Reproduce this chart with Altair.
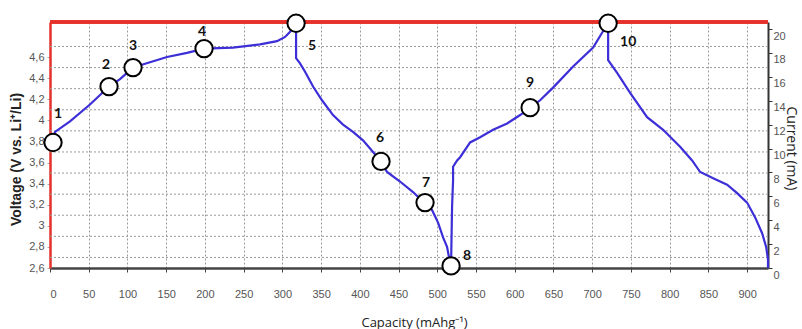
import altair as alt
import pandas as pd

# ---------------- data ----------------
capacity = [
    2.6, 6.5, 25.8, 51.6, 76.2, 90.4, 107.2, 129.1, 151.1, 176.9, 198.9, 236.3, 271.2, 293.1, 303.5, 310.0, 317.7,
    317.7, 322.8, 329.3, 339.6, 351.2, 365.4, 378.3, 391.2, 404.1, 417.1, 427.4, 435.2, 451.9, 468.7, 482.9,
    493.2, 501.0, 507.5, 512.6, 515.2, 517.8,
    519.1, 520.4, 520.4, 525.6, 529.5, 542.4, 555.3, 572.1, 590.2, 607.0, 619.9, 632.8, 649.5, 675.4, 701.2,
    712.8, 720.6,
    720.6, 732.2, 749.0, 770.9, 791.6, 813.5, 829.0, 839.4, 856.2, 874.2, 887.1, 900.0, 910.4, 919.4, 924.6,
    927.0, 927.0,
]
voltage = [
    3.79, 3.89, 3.99, 4.15, 4.32, 4.39, 4.50, 4.55, 4.60, 4.64, 4.68, 4.69, 4.72, 4.75, 4.79, 4.84, 4.92,
    4.59, 4.54, 4.46, 4.32, 4.19, 4.05, 3.96, 3.89, 3.81, 3.70, 3.61, 3.51, 3.42, 3.32, 3.22,
    3.15, 3.03, 2.89, 2.80, 2.70, 2.62,
    3.18, 3.43, 3.56, 3.62, 3.65, 3.79, 3.84, 3.91, 3.97, 4.05, 4.12, 4.19, 4.31, 4.51, 4.69,
    4.83, 4.92,
    4.57, 4.45, 4.26, 4.03, 3.91, 3.75, 3.62, 3.51, 3.45, 3.39, 3.31, 3.22, 3.08, 2.93, 2.80,
    2.68, 2.60,
]

marker_capacity = [3.9, 76.2, 107.2, 198.9, 317.7, 427.4, 484.2, 517.8, 619.9, 720.6]
marker_voltage = [3.79, 4.32, 4.50, 4.68, 4.92, 3.61, 3.22, 2.62, 4.12, 4.92]
marker_labels = ["1", "2", "3", "4", "5", "6", "7", "8", "9", "10"]

x_ticks = [0, 50, 100, 150, 200, 250, 300, 350, 400, 450, 500, 550, 600, 650, 700, 750, 800, 850, 900]
v_ticks = [2.6, 2.8, 3.0, 3.2, 3.4, 3.6, 3.8, 4.0, 4.2, 4.4, 4.6]
v_grid = [2.7, 2.9, 3.1, 3.3, 3.5, 3.7, 3.9, 4.1, 4.3, 4.5, 4.7]
i_ticks = [0, 2, 4, 6, 8, 10, 12, 14, 16, 18, 20]

# ---------------- styling ----------------
W, H = 718, 246
X_DOMAIN = [0, 927]
V_DOMAIN = [2.6, 4.932]
I_DOMAIN = [0, 20.59]
RED = "#e5312b"
BLUE = "#3d2fd8"
GRID = "#9a9a9a"
TICK_FONT = "Liberation Sans"
TITLE_FONT = "Open Sans"

# label offsets (pixels) relative to the marker centres
label_offsets = [(5, -28), (-3, -22), (0, -22), (-2, -17), (16, 23), (-1, -23), (1, -20), (16, -10), (0, -25), (20, 19)]

curve_df = pd.DataFrame({"cap": capacity, "v": voltage, "idx": list(range(len(capacity)))})
marker_df = pd.DataFrame({"cap": marker_capacity, "v": marker_voltage, "lab": marker_labels})
vgrid_df = pd.DataFrame({"v": v_grid})
cur_df = pd.DataFrame({"cur": i_ticks})

xscale = alt.Scale(domain=X_DOMAIN, nice=False, zero=False)
vscale = alt.Scale(domain=V_DOMAIN, nice=False, zero=False)
iscale = alt.Scale(domain=I_DOMAIN, nice=False, zero=False)

x_axis = alt.Axis(
    values=x_ticks, grid=True, gridColor=GRID, gridDash=[2, 2], gridWidth=1,
    domainColor="#444444", domainWidth=2.5, tickColor="#444444", tickSize=4, tickWidth=1,
    labelPadding=16, labelFont=TICK_FONT, labelFontSize=11, labelColor="#555555",
    title="Capacity (mAhg⁻¹)", titleFont=TITLE_FONT, titleFontSize=13, titleFontWeight="normal",
    titleColor="#222222", titleX=364, titleY=54, titleBaseline="middle",
)
v_axis = alt.Axis(
    values=v_ticks, grid=False, domainColor=RED, domainWidth=2.5,
    tickColor="#aaaaaa", tickSize=3, labelPadding=3,
    labelExpr="replace(format(datum.value, '~g'), '.', ',')",
    labelFont=TICK_FONT, labelFontSize=11, labelColor="#555555",
    title="Voltage (V vs. Li⁺/Li)", titleFont=TICK_FONT, titleFontSize=14, titleFontWeight="bold",
    titleColor="#222222", titleX=-27, titleY=137,
)
i_axis = alt.Axis(
    values=i_ticks, grid=False, orient="right", domainColor="#333333", domainWidth=2,
    tickColor="#333333", tickSize=4, labelPadding=1, labelOffset=7, labelFont=TICK_FONT, labelFontSize=11,
    labelColor="#555555", format="d",
    title="Current (mA)", titleFont=TITLE_FONT, titleFontSize=14, titleFontWeight="normal",
    titleColor="#222222", titleAngle=90, titleX=15, titleY=126,
)

X = alt.X("cap:Q", scale=xscale, axis=x_axis)
Y = alt.Y("v:Q", scale=vscale, axis=v_axis)

gridlines = alt.Chart(vgrid_df).mark_rule(color=GRID, strokeDash=[2, 2], strokeWidth=1).encode(y=Y)

top_line = alt.Chart(vgrid_df).mark_rule(color=RED, strokeWidth=2.5).encode(
    x=alt.value(0), x2=alt.value(W), y=alt.value(0)
)

curve = alt.Chart(curve_df).mark_line(color=BLUE, strokeWidth=2.2).encode(x=X, y=Y, order="idx:Q")

markers = alt.Chart(marker_df).mark_point(
    shape="circle", size=300, filled=True, fill="white", stroke="black", strokeWidth=2, opacity=1
).encode(x=X, y=Y)

label_layers = []
for lab, (dx, dy) in zip(marker_labels, label_offsets):
    label_layers.append(
        alt.Chart(marker_df).transform_filter(alt.datum.lab == lab).mark_text(
            font="Lato", fontSize=14, fontWeight="bold", color="#111111",
            align="center", baseline="middle", dx=dx, dy=dy,
        ).encode(x=X, y=Y, text="lab:N")
    )

voltage_layers = alt.layer(gridlines, top_line, curve, markers, *label_layers)

current_layer = alt.Chart(cur_df).mark_point(opacity=0).encode(
    x=alt.value(W),
    y=alt.Y("cur:Q", scale=iscale, axis=i_axis),
)

chart = alt.layer(voltage_layers, current_layer).resolve_scale(y="independent").properties(
    width=W, height=H,
    autosize=alt.AutoSizeParams(type="none"),
    padding={"left": 50, "top": 22, "right": 34, "bottom": 61},
).configure_view(stroke=None).configure(background="white")

chart.save("out.html", embed_options={"renderer": "svg", "actions": False})
